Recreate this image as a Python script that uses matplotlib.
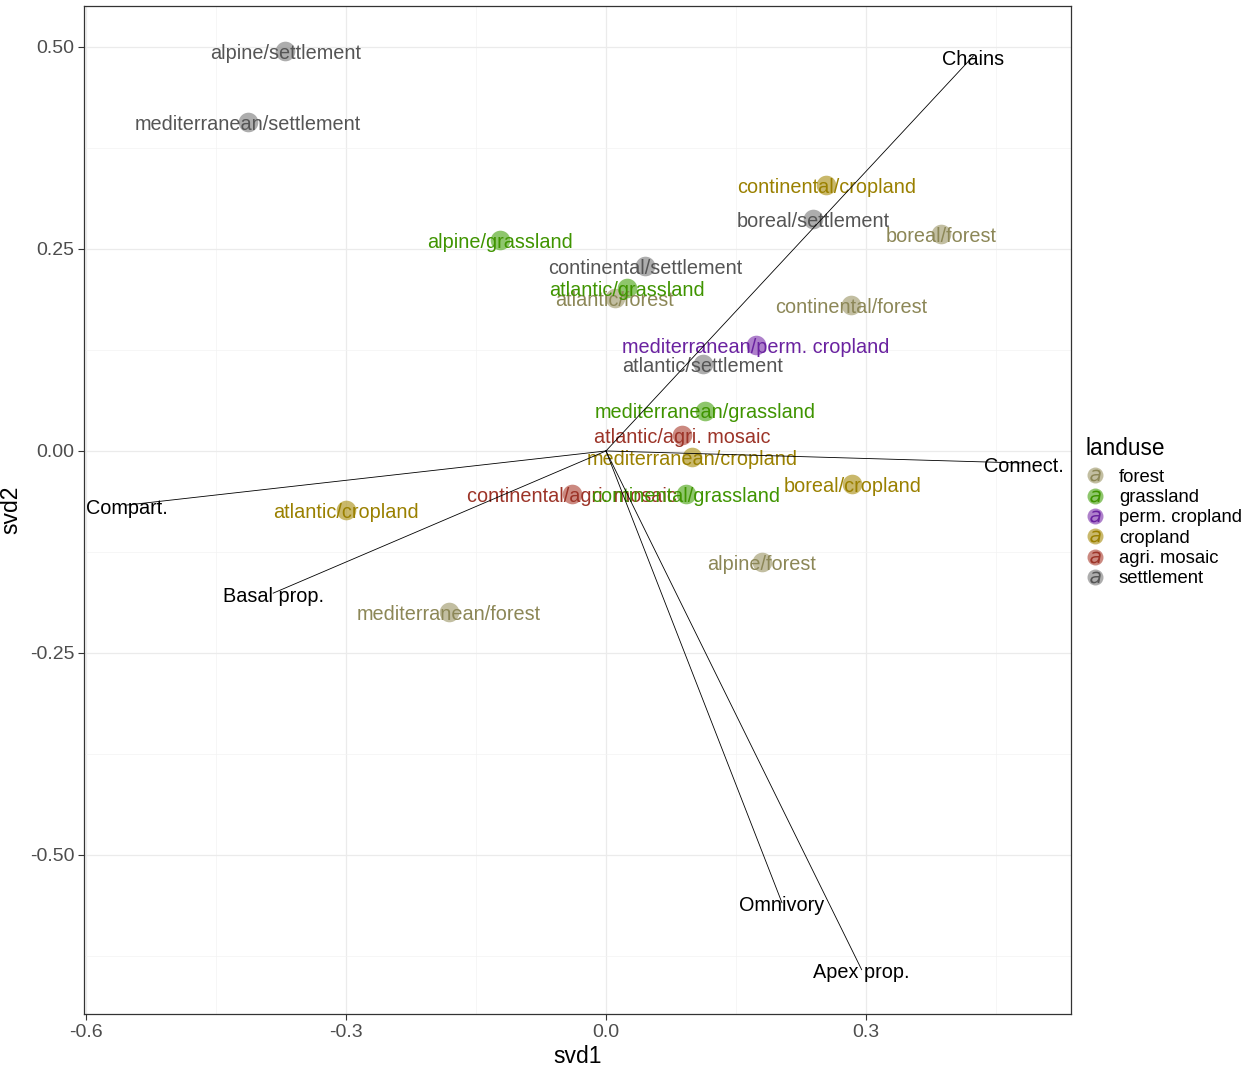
import matplotlib
matplotlib.use("Agg")
import matplotlib.pyplot as plt
from matplotlib.lines import Line2D
import numpy as np

plt.rcParams['font.family'] = ['Liberation Sans', 'DejaVu Sans']

# site scores (svd1, svd2) per region/landuse
site_labels = ['alpine/settlement', 'mediterranean/settlement', 'continental/cropland',
               'boreal/settlement', 'boreal/forest', 'alpine/grassland',
               'continental/settlement', 'atlantic/forest', 'atlantic/grassland',
               'continental/forest', 'mediterranean/perm. cropland', 'atlantic/settlement',
               'mediterranean/grassland', 'atlantic/agri. mosaic', 'mediterranean/cropland',
               'continental/agri. mosaic', 'continental/grassland', 'boreal/cropland',
               'atlantic/cropland', 'alpine/forest', 'mediterranean/forest']
site_landuse = ['settlement', 'settlement', 'cropland', 'settlement', 'forest', 'grassland',
                'settlement', 'forest', 'grassland', 'forest', 'perm. cropland', 'settlement',
                'grassland', 'agri. mosaic', 'cropland', 'agri. mosaic', 'grassland', 'cropland',
                'cropland', 'forest', 'forest']
svd1 = [-0.370, -0.413, 0.254, 0.239, 0.387, -0.122, 0.045, 0.010, 0.024, 0.283, 0.173,
        0.112, 0.114, 0.088, 0.099, -0.039, 0.092, 0.284, -0.300, 0.180, -0.181]
svd2 = [0.495, 0.407, 0.329, 0.287, 0.269, 0.261, 0.229, 0.189, 0.202, 0.181, 0.131,
        0.108, 0.050, 0.020, -0.007, -0.053, -0.053, -0.041, -0.073, -0.137, -0.199]

# loadings of the food-web metrics
var_labels = ['Chains', 'Connect.', 'Compart.', 'Basal prop.', 'Omnivory', 'Apex prop.']
var_x = [0.424, 0.482, -0.553, -0.384, 0.203, 0.295]
var_y = [0.489, -0.015, -0.067, -0.176, -0.559, -0.642]

landuse_levels = ['forest', 'grassland', 'perm. cropland', 'cropland', 'agri. mosaic', 'settlement']
point_colors = ['#a8a37a', '#5fae2e', '#8c4bb5', '#b29b2c', '#b5574b', '#8a8a8a']
text_colors = ['#8c8757', '#3f9400', '#6a22a0', '#9a8000', '#9c3428', '#555555']

fig = plt.figure(figsize=(12.51, 10.67), dpi=100)
ax = fig.add_axes([0.0671, 0.0497, 0.7890, 0.9447])

ax.set_xlim(-0.6023, 0.5365)
ax.set_ylim(-0.6968, 0.5507)

ax.set_xticks([-0.6, -0.3, 0.0, 0.3])
ax.set_xticklabels(['-0.6', '-0.3', '0.0', '0.3'])
ax.set_yticks([-0.5, -0.25, 0.0, 0.25, 0.5])
ax.set_yticklabels(['-0.50', '-0.25', '0.00', '0.25', '0.50'])
ax.set_xticks([-0.45, -0.15, 0.15, 0.45], minor=True)
ax.set_yticks([-0.625, -0.375, -0.125, 0.125, 0.375], minor=True)
ax.grid(which='major', color='#ebebeb', lw=0.9, zorder=0)
ax.grid(which='minor', color='#f3f3f3', lw=0.5, zorder=0)
ax.tick_params(which='minor', length=0)
ax.tick_params(which='major', length=4, width=0.8, color='#333333',
               labelsize=14, labelcolor='#4d4d4d', pad=3)
for s in ax.spines.values():
    s.set_color('#333333')
    s.set_linewidth(0.9)
ax.set_axisbelow(True)

ax.set_xlabel('svd1', fontsize=16.5, labelpad=3)
ax.set_ylabel('svd2', fontsize=16.5, labelpad=5)

# sites: points with labels on top
for lab, lu, x, y in zip(site_labels, site_landuse, svd1, svd2):
    k = landuse_levels.index(lu)
    ax.scatter(x, y, s=200, color=point_colors[k], alpha=0.7, lw=0, zorder=2)
    ax.text(x, y - 0.003, lab, color=text_colors[k], fontsize=14.3, ha='center',
            va='center', zorder=3)

# loading vectors from the origin
for lab, x, y in zip(var_labels, var_x, var_y):
    ax.plot([0, x], [0, y], color='black', lw=0.6, zorder=4)
    ax.text(x, y - 0.004, lab, color='black', fontsize=14.3, ha='center', va='center', zorder=5)

handles = []
for k in range(len(landuse_levels)):
    dot = Line2D([], [], marker='o', ls='', markersize=11.5, color=point_colors[k],
                 alpha=0.7, markeredgewidth=0)
    a = Line2D([], [], marker='$a$', ls='', markersize=8.5, color=text_colors[k],
               markeredgewidth=0)
    handles.append((dot, a))
leg = fig.legend(handles, landuse_levels, title='landuse', loc='upper left',
                 bbox_to_anchor=(0.862, 0.597), frameon=False, fontsize=13.3,
                 title_fontsize=16.3, handlelength=1.0, handletextpad=0.8,
                 labelspacing=0.18, borderaxespad=0)
leg._legend_box.align = 'left'
leg._legend_box.sep = 6

fig.savefig('out.png', dpi=100)
